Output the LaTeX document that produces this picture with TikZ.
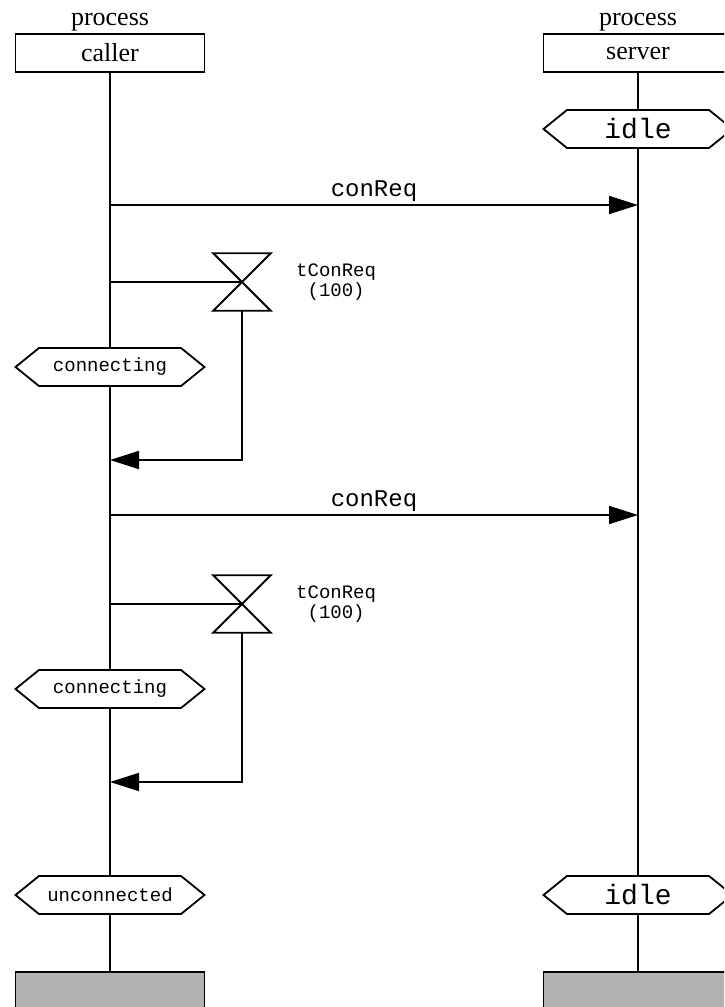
\documentclass[tikz,border=0pt]{standalone}
\usepackage{fontspec}
\setmainfont{Liberation Serif}
\setmonofont{Liberation Mono}
\usetikzlibrary{positioning, arrows.meta, shapes.symbols}
\tikzset{
    procbox/.style   = {draw, line width=1.8pt, fill=white, minimum width=189pt,
                        minimum height=38pt, inner sep=0pt,
                        font=\fontsize{26}{30}\selectfont},
    endbox/.style    = {procbox, fill=black!30},
    statenode/.style = {draw, line width=1.8pt, fill=white, shape=signal,
                        signal to=east and west, signal pointer angle=78,
                        minimum width=189pt, minimum height=38pt, inner sep=0pt,
                        font=\ttfamily\fontsize{19}{22}\selectfont},
    bigstate/.style  = {statenode, font=\ttfamily\fontsize{28}{30}\selectfont},
    lifeline/.style  = {line width=1.8pt},
    msg/.style       = {line width=1.8pt, -{Triangle[length=29pt, width=18pt]}},
    msglbl/.style    = {font=\ttfamily\fontsize{24}{28}\selectfont, inner sep=0pt},
    timerbox/.style  = {minimum width=57pt, minimum height=57pt, inner sep=0pt},
    timerlbl/.style  = {font=\ttfamily\fontsize{19}{20}\selectfont, align=center},
    hourglass/.style = {line width=1.8pt, fill=white},
}

\begin{document}
\begin{tikzpicture}[x=1pt, y=-1pt]
\useasboundingbox (0,0) rectangle (724,1007);
\clip (0,0) rectangle (724,1007);

% instance heads
\node[procbox] (caller) at (110,53) {caller};
\node[procbox] (server) at (638,53) {server};
\node[above=0pt of caller, font=\fontsize{26}{30}\selectfont, inner sep=1.5pt] (callerkind) {process};
\node[above=0pt of server, font=\fontsize{26}{30}\selectfont, inner sep=1.5pt] (serverkind) {process};

% states
\node[bigstate]  (idleA) at (638,129) {idle};
\node[statenode] (connA) at (110,367) {connecting};
\node[statenode] (connB) at (110,689) {connecting};
\node[statenode] (uncon) at (110,895) {unconnected};
\node[bigstate]  (idleB) at (638,895) {idle};

% instance ends
\node[endbox] (callerend) at (110,991) {};
\node[endbox] (serverend) at (638,991) {};

% lifelines
\draw[lifeline] (caller.south) -- (connA.north);
\draw[lifeline] (connA.south) -- (connB.north);
\draw[lifeline] (connB.south) -- (uncon.north);
\draw[lifeline] (uncon.south) -- (callerend.north);
\draw[lifeline] (server.south) -- (idleA.north);
\draw[lifeline] (idleA.south) -- (idleB.north);
\draw[lifeline] (idleB.south) -- (serverend.north);

% first attempt
\coordinate (reqAs) at (110,205);
\coordinate (reqAe) at (638,205);
\draw[msg] (reqAs) -- node[msglbl, above=3pt] {conReq} (reqAe);

\coordinate (tsetA) at (110,282);
\node[timerbox] (timerA) at (242,282) {};
\draw[lifeline] (tsetA) -- (timerA.center);
\draw[hourglass] (timerA.north west) -- (timerA.north east)
    -- (timerA.south west) -- (timerA.south east) -- cycle;
\node[timerlbl, right=22pt of timerA] (timerAlbl) {tConReq\\(100)};
\coordinate (toutA) at (110,460);
\draw[msg] (timerA.south) |- (toutA);

% second attempt
\coordinate (reqBs) at (110,515);
\coordinate (reqBe) at (638,515);
\draw[msg] (reqBs) -- node[msglbl, above=3pt] {conReq} (reqBe);

\coordinate (tsetB) at (110,604);
\node[timerbox] (timerB) at (242,604) {};
\draw[lifeline] (tsetB) -- (timerB.center);
\draw[hourglass] (timerB.north west) -- (timerB.north east)
    -- (timerB.south west) -- (timerB.south east) -- cycle;
\node[timerlbl, right=22pt of timerB] (timerBlbl) {tConReq\\(100)};
\coordinate (toutB) at (110,782);
\draw[msg] (timerB.south) |- (toutB);

\end{tikzpicture}
\end{document}
